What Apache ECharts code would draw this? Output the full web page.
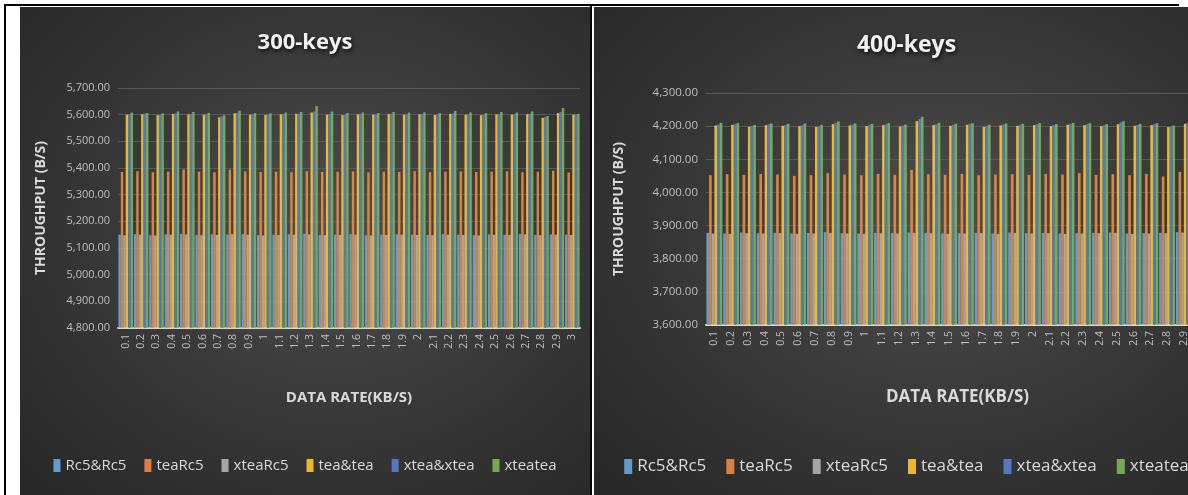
<!DOCTYPE html>
<html>
<head>
<meta charset="utf-8">
<script src="https://cdn.jsdelivr.net/npm/echarts@6/dist/echarts.min.js"></script>
<style>
  html, body { margin: 0; padding: 0; background: #ffffff; }
  #page { position: relative; width: 1188px; height: 495px; overflow: hidden; background: #fff; }
  .rule { position: absolute; background: #000; }
  .panel {
    position: absolute; top: 7px; height: 488px;
    background: radial-gradient(ellipse at 55% 45%, #4e4e4e 0%, #3a3a3a 45%, #262626 100%);
  }
  #p300 { left: 20px; width: 570px; }
  #p400 { left: 594px; width: 625px; }
</style>
</head>
<body>
<div id="page">
  <div class="rule" style="left:4px;top:4px;width:1175px;height:2px"></div>
  <div class="rule" style="left:4px;top:4px;width:2px;height:491px"></div>
  <div class="rule" style="left:590px;top:4px;width:2px;height:491px"></div>
  <div class="panel" id="p300"></div>
  <div class="panel" id="p400"></div>
</div>
<script>
// Data rate categories (KB/s)
const categories = ['0.1','0.2','0.3','0.4','0.5','0.6','0.7','0.8','0.9','1',
                    '1.1','1.2','1.3','1.4','1.5','1.6','1.7','1.8','1.9','2',
                    '2.1','2.2','2.3','2.4','2.5','2.6','2.7','2.8','2.9','3'];

const seriesNames = ['Rc5&Rc5', 'teaRc5', 'xteaRc5', 'tea&tea', 'xtea&xtea', 'xteatea'];

// Throughput (B/s) with 300 keys
const rc5_300      = [5150,5152,5148,5151,5153,5149,5151,5150,5152,5148,5150,5151,5153,5149,5150,5152,5148,5150,5151,5150,5149,5152,5150,5148,5151,5150,5153,5149,5151,5150];
const teaRc5_300   = [5385,5388,5384,5386,5395,5386,5384,5394,5387,5385,5386,5384,5388,5385,5386,5387,5384,5386,5385,5388,5384,5386,5387,5385,5386,5388,5384,5386,5390,5383];
const xteaRc5_300  = [5148,5150,5147,5150,5151,5148,5149,5152,5150,5147,5149,5150,5151,5148,5149,5150,5147,5149,5150,5149,5148,5150,5149,5147,5150,5149,5151,5148,5150,5149];
const teatea_300   = [5600,5602,5598,5603,5601,5600,5590,5605,5600,5599,5601,5603,5608,5600,5598,5601,5600,5602,5600,5601,5599,5603,5600,5598,5601,5600,5602,5588,5606,5600];
const xteaxtea_300 = [5602,5604,5600,5605,5603,5602,5594,5607,5601,5600,5603,5604,5612,5602,5600,5603,5601,5604,5602,5603,5600,5605,5602,5600,5603,5602,5604,5592,5610,5601];
const xteatea_300  = [5608,5606,5605,5612,5610,5607,5598,5615,5606,5605,5608,5610,5632,5612,5606,5608,5606,5610,5608,5609,5606,5614,5608,5606,5610,5608,5612,5595,5625,5603];

// Throughput (B/s) with 400 keys
const rc5_400      = [3878,3876,3879,3877,3878,3876,3878,3880,3877,3876,3878,3877,3879,3878,3876,3877,3878,3876,3879,3877,3878,3876,3877,3878,3879,3876,3877,3878,3880,3877];
const teaRc5_400   = [4052,4055,4053,4056,4054,4050,4052,4058,4054,4052,4056,4053,4068,4055,4053,4056,4052,4054,4055,4053,4056,4054,4058,4053,4055,4052,4056,4048,4062,4055];
const xteaRc5_400  = [3876,3875,3877,3876,3877,3875,3876,3878,3876,3875,3877,3876,3878,3877,3875,3876,3877,3875,3878,3876,3877,3875,3876,3877,3878,3875,3876,3877,3879,3876];
const teatea_400   = [4202,4204,4198,4203,4201,4200,4198,4206,4202,4200,4203,4199,4215,4203,4201,4204,4198,4202,4201,4203,4200,4204,4203,4200,4206,4201,4203,4197,4207,4200];
const xteaxtea_400 = [4205,4207,4201,4206,4204,4203,4200,4210,4205,4203,4206,4202,4222,4206,4204,4207,4201,4205,4204,4206,4203,4207,4206,4203,4212,4204,4206,4199,4210,4203];
const xteatea_400  = [4210,4209,4204,4208,4207,4208,4204,4214,4208,4207,4209,4205,4228,4210,4207,4209,4204,4208,4207,4209,4206,4210,4209,4206,4215,4207,4209,4202,4212,4206];

const yTicks300 = { min: 4800, max: 5700, interval: 100 };
const yTicks400 = { min: 3600, max: 4300, interval: 100 };

// Office palette, slightly softened on the dark background
const palette = ['#6aa7dc', '#ef8a45', '#b3b3b3', '#ffc72a', '#5580cc', '#7cb657'];

const NARROW = '"Open Sans", "Liberation Sans", sans-serif';

function buildOption(cfg) {
  return {
    animation: false,
    color: palette,
    title: {
      text: cfg.title,
      left: 'center',
      top: cfg.titleTop,
      textStyle: {
        color: '#f2f2f2', fontSize: cfg.titleSize, fontWeight: 'bold',
        fontFamily: '"Open Sans", "DejaVu Sans", sans-serif',
        textShadowColor: 'rgba(0,0,0,0.8)', textShadowBlur: 4, textShadowOffsetX: 1, textShadowOffsetY: 2
      }
    },
    legend: {
      data: seriesNames,
      left: cfg.legendLeft,
      top: cfg.legendTop,
      itemWidth: cfg.iconW, itemHeight: cfg.iconH, itemGap: cfg.legendGap,
      icon: 'rect',
      textStyle: { color: '#d9d9d9', fontSize: cfg.legendSize, fontFamily: NARROW }
    },
    grid: { left: cfg.gridLeft, right: cfg.gridRight, top: cfg.gridTop, bottom: cfg.gridBottom, containLabel: false },
    xAxis: {
      type: 'category',
      data: categories,
      name: 'DATA RATE(KB/S)',
      nameLocation: 'middle',
      nameGap: cfg.xNameGap,
      nameTextStyle: { color: '#d9d9d9', fontSize: cfg.xNameSize, fontWeight: 'bold', fontFamily: NARROW },
      axisLine: { lineStyle: { color: '#d9d9c8', width: 2 } },
      axisTick: { show: false },
      axisLabel: { rotate: 90, interval: 0, color: '#bfbfbf', fontSize: 10.5, fontFamily: NARROW, margin: 6 }
    },
    yAxis: {
      type: 'value',
      min: cfg.y.min, max: cfg.y.max, interval: cfg.y.interval,
      name: 'THROUGHPUT (B/S)',
      nameLocation: 'middle',
      nameGap: cfg.yNameGap,
      nameTextStyle: { color: '#d9d9d9', fontSize: 14, fontWeight: 'bold', fontFamily: '"Open Sans", sans-serif' },
      axisLine: { show: false },
      axisTick: { show: false },
      splitLine: { lineStyle: { color: '#585858', width: 1 } },
      axisLabel: {
        color: '#bfbfbf', fontSize: cfg.yLabelSize, fontFamily: NARROW, margin: 8,
        formatter: v => v.toLocaleString('en-US', { minimumFractionDigits: 2, maximumFractionDigits: 2 })
      }
    },
    series: cfg.values.map((vals, i) => ({
      name: seriesNames[i],
      type: 'bar',
      data: vals,
      barGap: '0%',
      barCategoryGap: '5%',
      itemStyle: { opacity: 0.9 }
    }))
  };
}

const chart300 = echarts.init(document.getElementById('p300'), null, { renderer: 'canvas' });
chart300.setOption(buildOption({
  title: '300-keys', titleTop: 20, titleSize: 22,
  legendLeft: 'center', legendTop: 446, iconW: 7, iconH: 13, legendGap: 18, legendSize: 15,
  gridLeft: 98, gridRight: 10, gridTop: 81, gridBottom: 167,
  xNameGap: 62, xNameSize: 15, yNameGap: 70, yLabelSize: 11,
  y: yTicks300,
  values: [rc5_300, teaRc5_300, xteaRc5_300, teatea_300, xteaxtea_300, xteatea_300]
}));

const chart400 = echarts.init(document.getElementById('p400'), null, { renderer: 'canvas' });
chart400.setOption(buildOption({
  title: '400-keys', titleTop: 22, titleSize: 23,
  legendLeft: 'center', legendTop: 446, iconW: 8, iconH: 15, legendGap: 20, legendSize: 17,
  gridLeft: 112, gridRight: 10, gridTop: 86, gridBottom: 170,
  xNameGap: 64, xNameSize: 17, yNameGap: 80, yLabelSize: 11.5,
  y: yTicks400,
  values: [rc5_400, teaRc5_400, xteaRc5_400, teatea_400, xteaxtea_400, xteatea_400]
}));
</script>
</body>
</html>
